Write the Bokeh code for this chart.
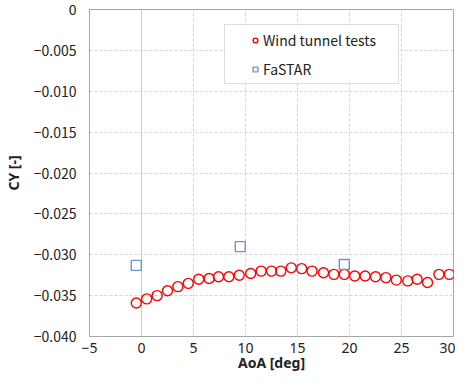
from bokeh.plotting import figure
from bokeh.models import (Range1d, FixedTicker, Legend, LegendItem, Span,
                          BoxAnnotation, CustomJSTickFormatter)
from bokeh.embed import file_html
from bokeh.resources import INLINE

# ---- data ----
aoa_wt = [-0.5, 0.5, 1.5, 2.5, 3.5, 4.5, 5.5, 6.5, 7.4, 8.4, 9.4, 10.5, 11.5,
          12.5, 13.4, 14.4, 15.4, 16.4, 17.5, 18.5, 19.5, 20.5, 21.5, 22.5,
          23.5, 24.5, 25.6, 26.5, 27.5, 28.6, 29.6]
cy_wt = [-0.0359, -0.0354, -0.0350, -0.0344, -0.0339, -0.0335, -0.0330,
         -0.0329, -0.0327, -0.0327, -0.0325, -0.0323, -0.0320, -0.0320,
         -0.0320, -0.0316, -0.0317, -0.0320, -0.0322, -0.0324, -0.0324,
         -0.0326, -0.0326, -0.0327, -0.0328, -0.0331, -0.0332, -0.0330,
         -0.0334, -0.0324, -0.0324]
aoa_cfd = [-0.5, 9.5, 19.5]
cy_cfd = [-0.0313, -0.0290, -0.0312]

x_ticks = [-5, 0, 5, 10, 15, 20, 25, 30]
y_ticks = [-0.040, -0.035, -0.030, -0.025, -0.020, -0.015, -0.010, -0.005, 0.0]

label_wt = "Wind tunnel tests"
label_cfd = "FaSTAR"
x_title = "AoA [deg]"
y_title = "CY [-]"

# ---- figure ----
W, H = 455, 376
p = figure(width=W, height=H, output_backend="svg", toolbar_location=None,
           x_range=Range1d(-5, 30), y_range=Range1d(-0.040, 0.0),
           min_border_left=80, min_border_right=2, min_border_top=9,
           min_border_bottom=40)
p.background_fill_color = "white"
p.border_fill_color = "white"
p.outline_line_color = "#a6a6a6"
p.outline_line_width = 1

grid_col = "#d4d4d4"
p.xgrid.ticker = FixedTicker(ticks=x_ticks)
p.ygrid.ticker = FixedTicker(ticks=y_ticks)
for g in (p.xgrid, p.ygrid):
    g.grid_line_color = grid_col
    g.grid_line_dash = "3 2"
    g.grid_line_width = 1

p.add_layout(Span(location=0, dimension="height", line_color="#cccccc",
                  line_width=1, level="underlay"))

x_fmt = CustomJSTickFormatter(code="""
    return tick < 0 ? "\u2212" + Math.abs(tick) : String(tick);
""")
y_fmt = CustomJSTickFormatter(code="""
    return tick == 0 ? "0" : "\u2212" + Math.abs(tick).toFixed(3);
""")

xa = p.xaxis[0]
xa.ticker = FixedTicker(ticks=x_ticks)
xa.formatter = x_fmt
ya = p.yaxis[0]
ya.ticker = FixedTicker(ticks=y_ticks)
ya.formatter = y_fmt

for ax in (xa, ya):
    ax.axis_line_color = "#a6a6a6"
    ax.major_tick_line_color = None
    ax.minor_tick_line_color = None
    ax.major_tick_in = 0
    ax.major_tick_out = 0
    ax.minor_tick_in = 0
    ax.minor_tick_out = 0
    ax.major_label_text_color = "#222222"
    ax.axis_label_text_color = "#222222"
    ax.axis_label_text_font_style = "bold"

xa.axis_label = x_title
xa.major_label_text_font = "Noto Sans"
xa.major_label_text_font_size = "14px"
xa.major_label_standoff = 6
xa.axis_label_text_font = "Noto Sans"
xa.axis_label_text_font_size = "14px"
xa.axis_label_standoff = -3

ya.axis_label = y_title
ya.major_label_text_font = "Noto Sans CJK JP"
ya.major_label_text_font_size = "14px"
ya.major_label_standoff = 13
ya.axis_label_text_font = "Noto Sans"
ya.axis_label_text_font_size = "14px"
ya.axis_label_standoff = 8

r_wt = p.scatter(aoa_wt, cy_wt, marker="circle", size=10, fill_color=None,
                 line_color="#ff0000", line_width=1.4)
r_cfd = p.scatter(aoa_cfd, cy_cfd, marker="square", size=10, fill_color=None,
                  line_color="#6d94cf", line_width=1.4)

# legend frame
p.add_layout(BoxAnnotation(left=135, right=309, bottom=253, top=312,
                           left_units="screen", right_units="screen",
                           bottom_units="screen", top_units="screen",
                           fill_color="white", fill_alpha=1.0,
                           line_color="#8c8c8c", line_width=1,
                           level="annotation"))

legend = Legend(items=[LegendItem(label=label_wt, renderers=[r_wt]),
                       LegendItem(label=label_cfd, renderers=[r_cfd])],
                location=(160, 257), padding=0, spacing=9,
                glyph_width=12, glyph_height=20, label_height=20,
                label_standoff=2, border_line_color=None,
                background_fill_alpha=0.0,
                label_text_font="Noto Sans CJK JP",
                label_text_font_size="14px", label_text_color="#222222",
                margin=0)
p.add_layout(legend, "center")

open("out.html", "w").write(file_html(p, INLINE))
